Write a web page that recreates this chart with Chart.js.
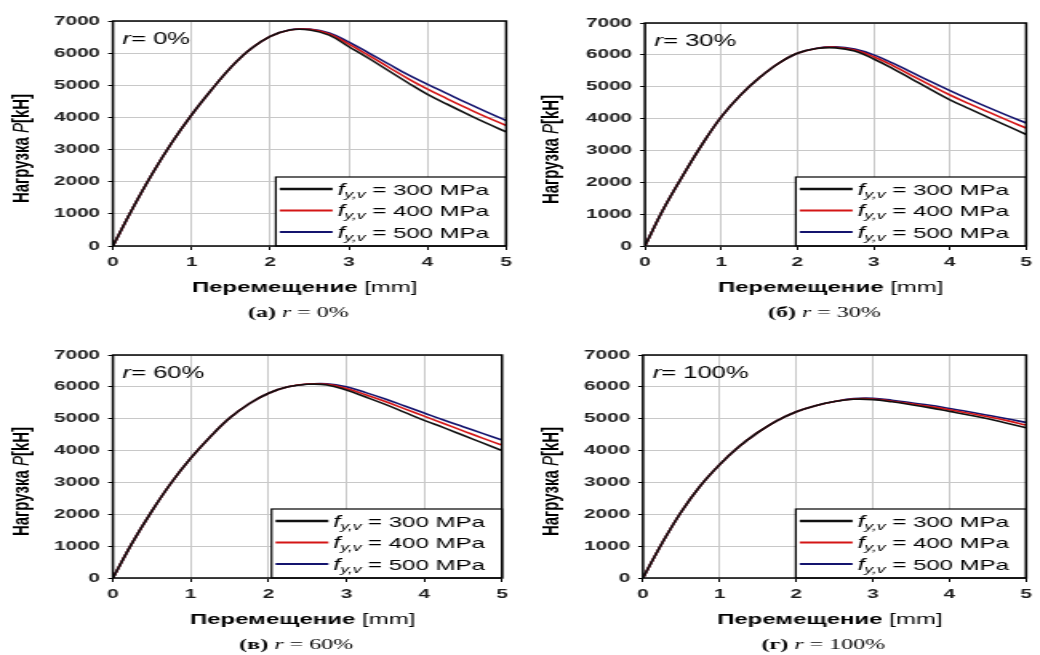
<!DOCTYPE html>
<html>
<head>
<meta charset="utf-8">
<script src="https://cdn.jsdelivr.net/npm/chart.js@4.4.0/dist/chart.umd.min.js"></script>
<style>
    html, body { margin: 0; padding: 0; background: #fff; width: 1040px; height: 655px; overflow: hidden; }
    .panel { position: absolute; transform: scaleX(1.6); transform-origin: 0 0; }
    .panel canvas { display: block; }
</style>
</head>
<body>
<div class="panel" style="left:0;top:0"><canvas id="chartA" width="325" height="330" style="width:325px;height:330px"></canvas></div>
<div class="panel" style="left:520px;top:0"><canvas id="chartB" width="325" height="330" style="width:325px;height:330px"></canvas></div>
<div class="panel" style="left:0;top:330px"><canvas id="chartC" width="325" height="325" style="width:325px;height:325px"></canvas></div>
<div class="panel" style="left:520px;top:330px"><canvas id="chartD" width="325" height="325" style="width:325px;height:325px"></canvas></div>
<script>
// displacement, mm
var dispMm = [0, 0.25, 0.5, 0.75, 1, 1.25, 1.5, 1.75, 2, 2.25, 2.5, 2.75, 3, 3.25, 3.5, 3.75, 4, 4.25, 4.5, 4.75, 5];

// load P, kN — r = 0%
var loadA300 = [0, 1170, 2250, 3220, 4080, 4850, 5560, 6130, 6520, 6720, 6720, 6560, 6200, 5840, 5460, 5080, 4720, 4410, 4110, 3820, 3550];
var loadA400 = [0, 1170, 2250, 3220, 4080, 4850, 5560, 6130, 6520, 6720, 6740, 6600, 6280, 5930, 5570, 5210, 4880, 4580, 4290, 4010, 3750];
var loadA500 = [0, 1170, 2250, 3220, 4080, 4850, 5560, 6130, 6520, 6730, 6750, 6630, 6340, 6010, 5670, 5330, 5030, 4740, 4450, 4170, 3900];

// r = 30%
var loadB300 = [0, 1190, 2220, 3190, 4050, 4730, 5280, 5730, 6050, 6200, 6220, 6120, 5870, 5570, 5240, 4910, 4590, 4310, 4040, 3770, 3500];
var loadB400 = [0, 1190, 2220, 3190, 4050, 4730, 5280, 5730, 6050, 6200, 6240, 6150, 5940, 5660, 5350, 5040, 4740, 4470, 4210, 3950, 3700];
var loadB500 = [0, 1190, 2220, 3190, 4050, 4730, 5280, 5730, 6050, 6210, 6250, 6180, 6000, 5740, 5450, 5160, 4880, 4610, 4350, 4100, 3860];

// r = 60%
var loadC300 = [0, 1110, 2100, 2990, 3760, 4430, 5020, 5470, 5800, 6000, 6080, 6060, 5900, 5680, 5450, 5200, 4950, 4720, 4480, 4240, 4000];
var loadC400 = [0, 1110, 2100, 2990, 3760, 4430, 5020, 5470, 5800, 6000, 6090, 6080, 5950, 5750, 5540, 5310, 5080, 4850, 4620, 4390, 4170];
var loadC500 = [0, 1110, 2100, 2990, 3760, 4430, 5020, 5470, 5800, 6000, 6090, 6100, 6000, 5820, 5620, 5400, 5180, 4960, 4750, 4540, 4330];

// r = 100%
var loadD300 = [0, 1100, 2080, 2900, 3560, 4120, 4570, 4940, 5220, 5410, 5540, 5610, 5600, 5530, 5440, 5340, 5230, 5120, 5000, 4860, 4720];
var loadD400 = [0, 1100, 2080, 2900, 3560, 4120, 4570, 4940, 5220, 5410, 5540, 5620, 5620, 5550, 5470, 5380, 5280, 5170, 5060, 4940, 4800];
var loadD500 = [0, 1100, 2080, 2900, 3560, 4120, 4570, 4940, 5220, 5410, 5540, 5630, 5640, 5580, 5500, 5420, 5320, 5220, 5110, 5000, 4880];

var dispTicks = [0, 1, 2, 3, 4, 5];
var loadTicks = [0, 1000, 2000, 3000, 4000, 5000, 6000, 7000];
var yieldLabels = ['300 MPa', '400 MPa', '500 MPa'];
var panelTags = ['(а)', '(б)', '(в)', '(г)'];
var reinfRatios = ['0%', '30%', '60%', '100%'];

var lineColors = ['#111111', '#d41515', '#14146e'];
var SANS = '"Liberation Sans", Arial, sans-serif';
var SERIF = '"Liberation Serif", "Times New Roman", serif';

// draws a row of text pieces with different fonts one after another
function drawRuns(ctx, runs, x, y, align) {
    var total = 0;
    runs.forEach(function (r) {
        ctx.font = r.font;
        r.w = ctx.measureText(r.text).width;
        total += r.w;
    });
    var cx = align === 'center' ? x - total / 2 : x;
    ctx.textAlign = 'left';
    runs.forEach(function (r) {
        ctx.font = r.font;
        ctx.fillText(r.text, cx, y + (r.dy || 0));
        cx += r.w;
    });
}

// frame, r label, legend, axis titles and caption
var panelDecor = {
    id: 'panelDecor',
    afterDraw: function (chart, args, opts) {
        var a = chart.chartArea, ctx = chart.ctx;
        var midX = (a.left + a.right) / 2;
        ctx.save();
        ctx.fillStyle = '#000';
        ctx.textBaseline = 'alphabetic';

        drawRuns(ctx, [
            { text: 'r', font: 'italic 16px ' + SANS },
            { text: '= ' + opts.ratio, font: '16px ' + SANS }
        ], a.left + 6, a.top + 23, 'left');

        // legend box
        var bw = 144, bh = 69, bx = a.right - bw, by = a.bottom - bh;
        ctx.fillStyle = '#fff';
        ctx.fillRect(bx, by, bw, bh);
        ctx.strokeStyle = '#000';
        ctx.lineWidth = 1.2;
        ctx.strokeRect(bx, by, bw, bh);
        chart.data.datasets.forEach(function (ds, i) {
            var ly = by + 12 + i * 21.5;
            ctx.strokeStyle = ds.borderColor;
            ctx.lineWidth = i === 0 ? 2.4 : 1.8;
            ctx.beginPath();
            ctx.moveTo(bx + 2.5, ly);
            ctx.lineTo(bx + 35.5, ly);
            ctx.stroke();
            ctx.fillStyle = '#000';
            drawRuns(ctx, [
                { text: 'f', font: 'italic 16px ' + SANS },
                { text: 'y,v', font: 'italic 11px ' + SANS, dy: 3 },
                { text: ' = ' + ds.label, font: '15px ' + SANS }
            ], bx + 38.5, ly + 5.5, 'left');
        });

        // plot frame
        ctx.strokeStyle = '#000';
        ctx.lineWidth = 1.5;
        ctx.strokeRect(a.left, a.top, a.right - a.left, a.bottom - a.top);

        ctx.fillStyle = '#000';
        ctx.textBaseline = 'middle';

        ctx.save();
        ctx.translate(opts.yTitleX, (a.top + a.bottom) / 2 + 15);
        ctx.rotate(-Math.PI / 2);
        drawRuns(ctx, [
            { text: 'Нагрузка ', font: 'bold 15px ' + SANS },
            { text: 'P', font: 'italic 15px ' + SANS },
            { text: '[kH]', font: 'bold 15px ' + SANS }
        ], 0, 0, 'center');
        ctx.restore();

        drawRuns(ctx, [
            { text: 'Перемещение', font: 'bold 15px ' + SANS },
            { text: ' [mm]', font: '15px ' + SANS }
        ], midX - 3, a.bottom + 42, 'center');

        drawRuns(ctx, [
            { text: opts.tag + ' ', font: 'bold 15px ' + SERIF },
            { text: 'r', font: 'italic 15px ' + SERIF },
            { text: ' = ' + opts.ratio, font: '15px ' + SERIF }
        ], midX - 7, a.bottom + 67, 'center');

        ctx.restore();
    }
};

function buildPanel(canvasId, series, idx, box) {
    var ctx = document.getElementById(canvasId).getContext('2d');
    var W = ctx.canvas.width, H = ctx.canvas.height;
    var tickFont = { family: SANS, size: 13, weight: 'bold' };

    var datasets = series.map(function (arr, i) {
        return {
            label: yieldLabels[i],
            data: dispMm.map(function (x, k) { return { x: x, y: arr[k] }; }),
            borderColor: lineColors[i],
            borderWidth: 1.6,
            pointRadius: 0,
            fill: false,
            tension: 0.4
        };
    });

    return new Chart(ctx, {
        type: 'line',
        data: { datasets: datasets },
        options: {
            responsive: false,
            animation: false,
            layout: { padding: { left: 0, top: box.top, right: W - box.right, bottom: 0 } },
            plugins: {
                legend: { display: false },
                tooltip: { enabled: false },
                panelDecor: { tag: panelTags[idx], ratio: reinfRatios[idx], yTitleX: box.yTitleX }
            },
            scales: {
                x: {
                    type: 'linear',
                    min: 0,
                    max: 5,
                    afterBuildTicks: function (s) { s.ticks = dispTicks.map(function (v) { return { value: v }; }); },
                    afterFit: function (s) { s.height = H - box.bottom; },
                    grid: { color: '#c8c8c8', lineWidth: 1, tickColor: '#000', tickLength: 4 },
                    border: { display: false },
                    ticks: { font: tickFont, color: '#1e1e1e', padding: 5, maxRotation: 0,
                        callback: function (v) { return String(v); } }
                },
                y: {
                    type: 'linear',
                    min: 0,
                    max: 7000,
                    afterBuildTicks: function (s) { s.ticks = loadTicks.map(function (v) { return { value: v }; }); },
                    afterFit: function (s) { s.width = box.left; },
                    grid: { color: '#c8c8c8', lineWidth: 1, tickColor: '#000', tickLength: 3 },
                    border: { display: false },
                    ticks: { font: tickFont, color: '#1e1e1e', padding: 5,
                        callback: function (v) { return String(v); } }
                }
            }
        },
        plugins: [panelDecor]
    });
}

buildPanel('chartA', [loadA300, loadA400, loadA500], 0, { left: 70.6, right: 316.9, top: 21, bottom: 246, yTitleX: 13.75 });
buildPanel('chartB', [loadB300, loadB400, loadB500], 1, { left: 78.1, right: 321.9, top: 23, bottom: 246, yTitleX: 20 });
buildPanel('chartC', [loadC300, loadC400, loadC500], 2, { left: 70.6, right: 313.75, top: 25, bottom: 248, yTitleX: 13.75 });
buildPanel('chartD', [loadD300, loadD400, loadD500], 3, { left: 76.9, right: 320.6, top: 25, bottom: 248, yTitleX: 20 });
</script>
</body>
</html>
